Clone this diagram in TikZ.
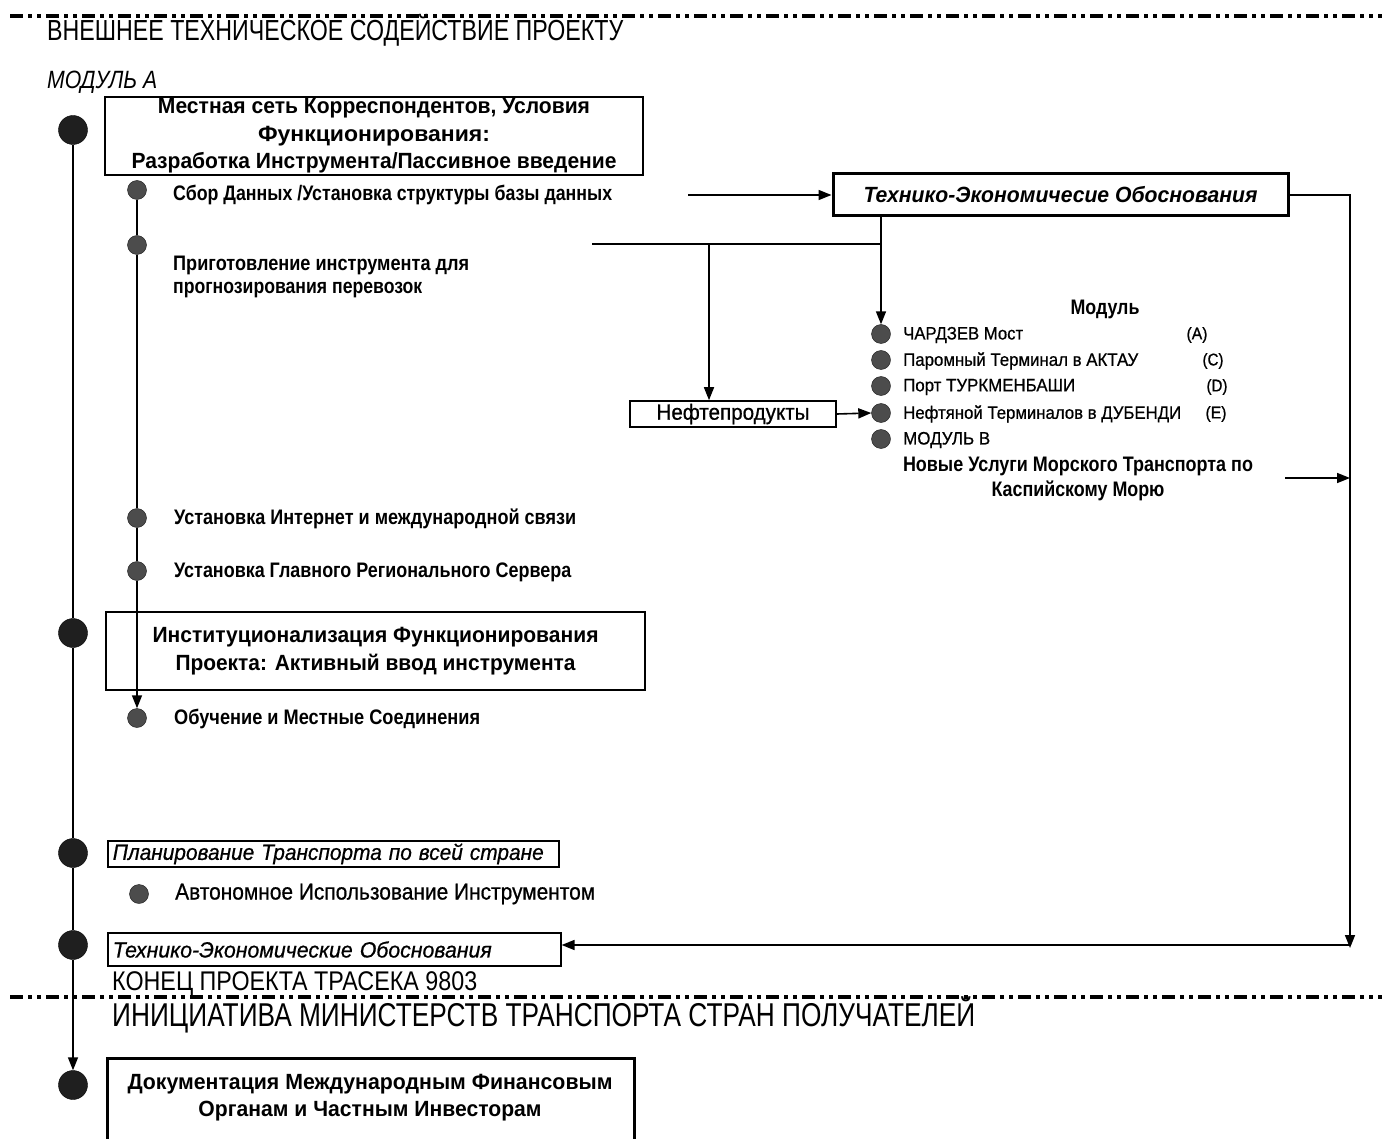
\documentclass[tikz,border=0pt]{standalone}
\usepackage{fontspec}
\setmainfont{Liberation Sans}
\newfontfamily\medfont[FakeBold=0.7]{Liberation Sans}
\usetikzlibrary{arrows.meta}
\newlength\fitlen
\newcommand\fitto[2]{\settowidth\fitlen{#2}\pgfmathsetmacro\fitf{#1/\fitlen}\scalebox{\fitf}[1]{#2}}
\newcommand\fs[2]{\fontsize{#1}{#2}\selectfont}
\tikzset{
  bigdot/.style={circle,draw=black,fill=black!88,minimum size=29pt,inner sep=0pt},
  smalldot/.style={circle,draw=black!90,fill=black!70,minimum size=19pt,inner sep=0pt},
  boxst/.style={draw,line width=1.6pt,inner sep=0pt},
  conn/.style={line width=1.6pt},
  arr/.style={line width=1.6pt,-{Triangle[length=13pt,width=10pt]}},
  sepline/.style={line width=3.5pt,dash pattern=on 13pt off 5pt on 4pt off 5pt on 4pt off 5pt},
  lbl/.style={anchor=west,inner sep=0pt},
  bul/.style={lbl,font=\fs{21}{25}\bfseries},
  mod/.style={lbl,font=\medfont\fs{18}{22}},
  modl/.style={inner sep=0pt,font=\medfont\fs{17}{22}},
}
\begin{document}
\begin{tikzpicture}[x=1pt,y=-1pt]
\useasboundingbox (0,0) rectangle (1389,1139);
\fill[white] (0,0) rectangle (1389,1139);

% separators
\coordinate (t1) at (10,16); \coordinate (t2) at (1382,16);
\draw[sepline] (t1) -- (t2);
\coordinate (b1) at (10,997); \coordinate (b2) at (1382,997);
\draw[sepline] (b1) -- (b2);

\node[lbl,font=\fs{29}{30}] (title) at (47,30) {\fitto{576}{ВНЕШНЕЕ ТЕХНИЧЕСКОЕ СОДЕЙСТВИЕ ПРОЕКТУ}};
\node[lbl,font=\fs{25}{28}\itshape] (modA) at (47,82) {\fitto{110}{МОДУЛЬ А}};

% box 1
\node[boxst,minimum width=538pt,minimum height=78pt,align=center,font=\fs{22}{27.5}\bfseries] (A1) at (374,136)
 {\fitto{432}{Местная сеть Корреспондентов, Условия}\\\fitto{232}{Функционирования:}\\\fitto{485}{Разработка Инструмента/Пассивное введение}};

% box 2
\node[boxst,minimum width=539pt,minimum height=78pt,align=center,font=\fs{22}{28}\bfseries] (A2) at (375.5,651)
 {\fitto{446}{Институционализация Функционирования}\\\fitto{400}{Проекта: Активный ввод инструмента}};

% box 3
\node[boxst,anchor=west,minimum width=451pt,minimum height=26pt,text width=441pt,inner xsep=5pt,align=left,font=\medfont\fs{22}{24}\itshape] (PL) at (107,854)
 {\fitto{431}{Планирование Транспорта по всей стране}};

% box 4
\node[boxst,anchor=west,minimum width=453pt,minimum height=33pt,text width=443pt,inner xsep=5pt,align=left,font=\medfont\fs{22}{24}\itshape] (TE) at (107,949.5)
 {\fitto{379}{Технико-Экономические Обоснования}};

% box 5
\node[boxst,line width=2.8pt,anchor=north west,minimum width=527pt,minimum height=100pt] (DOC) at (106,1057) {};
\node[align=center,inner sep=0pt,font=\fs{22}{27}\bfseries] (DOCt) at (370,1098)
 {\fitto{485}{Документация Международным Финансовым}\\\fitto{343}{Органам и Частным Инвесторам}};

\node[lbl,font=\fs{27}{28}] (end) at (112,984) {\fitto{365}{КОНЕЦ ПРОЕКТА ТРАСЕКА 9803}};
\node[lbl,font=\fs{33}{34}] (init) at (112,1015) {\fitto{863}{ИНИЦИАТИВА МИНИСТЕРСТВ ТРАНСПОРТА СТРАН ПОЛУЧАТЕЛЕЙ}};

% big timeline
\node[bigdot] (B1) at (73,130) {};
\node[bigdot] (B2) at (73,633) {};
\node[bigdot] (B3) at (73,853) {};
\node[bigdot] (B4) at (73,945) {};
\node[bigdot] (B5) at (73,1085) {};
\draw[conn] (B1) -- (B2);
\draw[conn] (B2) -- (B3);
\draw[conn] (B3) -- (B4);
\draw[arr] (B4) -- (B5);

% small timeline
\node[smalldot] (S1) at (137,190) {};
\node[smalldot] (S2) at (137,245) {};
\node[smalldot] (S3) at (137,518) {};
\node[smalldot] (S4) at (137,571) {};
\node[smalldot] (S5) at (137,718) {};
\node[smalldot] (S6) at (139,894) {};
\draw[conn] (S1) -- (S2);
\draw[conn] (S2) -- (S3);
\draw[conn] (S3) -- (S4);
\draw[arr] (S4) -- (S5);

\node[bul] (t1a) at (173,195) {\fitto{439}{Сбор Данных /Установка структуры базы данных}};
\node[bul] (t2a) at (173,265) {\fitto{296}{Приготовление инструмента для}};
\node[bul] (t2b) at (173,290) {\fitto{249}{прогнозирования перевозок}};
\node[bul] (t3a) at (174,519) {\fitto{402}{Установка Интернет и международной связи}};
\node[bul] (t4a) at (174,572) {\fitto{397}{Установка Главного Регионального Сервера}};
\node[bul] (t5a) at (174,719) {\fitto{306}{Обучение и Местные Соединения}};
\node[lbl,font=\medfont\fs{23}{25}] (t6a) at (175,894) {\fitto{420}{Автономное Использование Инструментом}};

% right part
\node[boxst,line width=3pt,minimum width=455pt,minimum height=42pt,font=\fs{22}{24}\bfseries\itshape] (TEO) at (1060.5,195)
 {\fitto{394}{Технико-Экономичесие Обоснования}};
\node[boxst,minimum width=206pt,minimum height=26pt,font=\medfont\fs{22}{24}] (NF) at (733,414) {\fitto{153}{Нефтепродукты}};

\node[smalldot] (M1) at (881,334) {};
\node[smalldot] (M2) at (881,360) {};
\node[smalldot] (M3) at (881,386) {};
\node[smalldot] (M4) at (881,413) {};
\node[smalldot] (M5) at (881,439) {};

\node[inner sep=0pt,font=\fs{21}{22}\bfseries] (modt) at (1105,309) {\fitto{69}{Модуль}};
\node[mod] (m1t) at (903,335) {\fitto{120}{ЧАРДЗЕВ Мост}};
\node[mod] (m2t) at (903,361) {\fitto{235}{Паромный Терминал в АКТАУ}};
\node[mod] (m3t) at (903,387) {\fitto{172}{Порт ТУРКМЕНБАШИ}};
\node[mod] (m4t) at (903,414) {\fitto{278}{Нефтяной Терминалов в ДУБЕНДИ}};
\node[mod] (m5t) at (903,440) {\fitto{87}{МОДУЛЬ В}};
\node[modl] (la) at (1197,335) {\fitto{21}{(A)}};
\node[modl] (lc) at (1213,361) {\fitto{21}{(C)}};
\node[modl] (ld) at (1217,387) {\fitto{21}{(D)}};
\node[modl] (le) at (1216,414) {\fitto{21}{(E)}};
\node[align=center,inner sep=0pt,font=\fs{21}{25}\bfseries] (sea) at (1078,479)
 {\fitto{350}{Новые Услуги Морского Транспорта по}\\\fitto{173}{Каспийскому Морю}};

% connectors
\coordinate (c1) at (688,195);
\draw[arr] (c1) -- (TEO.west);
\draw[arr] (TEO.south -| M1) -- (M1.north);
\coordinate (h1) at (592,244);
\coordinate (h2) at (709,244);
\draw[conn] (h1) -- (h1 -| M1);
\draw[arr] (h2) -- (h2 |- NF.north);
\draw[arr] (NF.east) -- (M4.west);
\coordinate (r2) at (1350,948);
\draw[arr] (TEO.east) -| (r2);
\coordinate (r3) at (1350,945);
\draw[arr] (r3) -- (r3 -| TE.east);
\coordinate (m1) at (1285,478);
\coordinate (m2) at (1350,478);
\draw[arr] (m1) -- (m2);
\end{tikzpicture}
\end{document}
